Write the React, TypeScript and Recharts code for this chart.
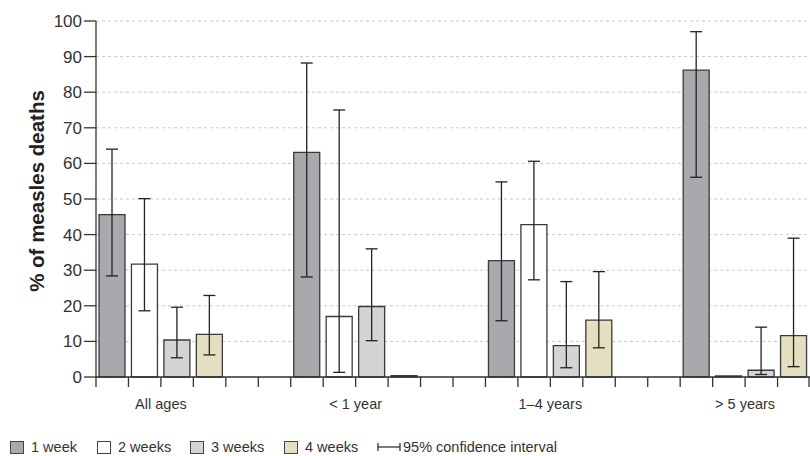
import { BarChart, Bar, XAxis, YAxis, CartesianGrid, ErrorBar, Cell } from 'recharts';

const ageGroups = ['All ages', '< 1 year', '1–4 years', '> 5 years'];
const seriesNames = ['1 week', '2 weeks', '3 weeks', '4 weeks'];
const seriesColors = ['#a8a9ac', '#ffffff', '#d3d4d6', '#e4dfc0'];

// % of measles deaths by interval, per age group, with 95% CI
const week1 = [45.6, 63.1, 32.7, 86.2];
const week1Low = [28.4, 28.1, 15.8, 56.1];
const week1High = [64.0, 88.2, 54.8, 97.0];
const week2 = [31.7, 17.0, 42.8, 0.3];
const week2Low = [18.6, 1.3, 27.3, null];
const week2High = [50.1, 75.0, 60.6, null];
const week3 = [10.4, 19.8, 8.8, 1.9];
const week3Low = [5.4, 10.2, 2.6, 0.7];
const week3High = [19.6, 36.0, 26.8, 14.0];
const week4 = [12.0, 0.4, 16.0, 11.6];
const week4Low = [6.2, null, 8.2, 2.9];
const week4High = [22.9, null, 29.6, 39.0];

const yTicks = [0, 10, 20, 30, 40, 50, 60, 70, 80, 90, 100];

const values = [week1, week2, week3, week4];
const lows = [week1Low, week2Low, week3Low, week4Low];
const highs = [week1High, week2High, week3High, week4High];

// each age group takes 4 bar slots + 2 empty slots (none after the last)
type Row = { slot: number; value: number | null; err: [number, number] | null; color: string };
const rows: Row[] = [];
ageGroups.forEach((_, g) => {
  for (let s = 0; s < 4; s++) {
    const v = values[s][g];
    const lo = lows[s][g];
    const hi = highs[s][g];
    rows.push({
      slot: rows.length,
      value: v,
      err: lo != null && hi != null ? [v - lo, hi - v] : null,
      color: seriesColors[s],
    });
  }
  if (g < ageGroups.length - 1) {
    rows.push({ slot: rows.length, value: null, err: null, color: '#fff' });
    rows.push({ slot: rows.length, value: null, err: null, color: '#fff' });
  }
});

const font = '"Liberation Sans", Arial, sans-serif';
const chartW = 810;
const yAxisW = 96;
const slotW = (chartW - yAxisW) / rows.length;

// legend item left edges, as in the original layout
const legendLefts = [10, 97, 190, 284];

// tick marks sit on slot boundaries; group names on the middle boundary of each group
function SlotTick(props: any) {
  const { x, y, index } = props;
  const left = x - slotW / 2;
  return (
    <g>
      <line x1={left} y1={y} x2={left} y2={y + 10} stroke="#333" strokeWidth={1.3} />
      {index === rows.length - 1 && (
        <line x1={x + slotW / 2 - 1} y1={y} x2={x + slotW / 2 - 1} y2={y + 10} stroke="#333" strokeWidth={1.3} />
      )}
      {index % 6 === 2 && (
        <text x={left} y={y + 22} dy="0.71em" textAnchor="middle" fill="#333" fontSize={14.5}>
          {ageGroups[(index - 2) / 6]}
        </text>
      )}
    </g>
  );
}

function Legend() {
  return (
    <div style={{ position: 'absolute', left: 0, top: 439, width: 810, height: 16, fontSize: 14.5, color: '#333', fontFamily: font }}>
      {seriesNames.map((name, i) => (
        <div key={name} style={{ position: 'absolute', left: legendLefts[i], top: 0, display: 'flex', alignItems: 'center', whiteSpace: 'nowrap' }}>
          <span style={{ width: 14, height: 13, background: seriesColors[i], border: '1px solid #444', boxSizing: 'border-box', marginRight: 7, display: 'inline-block' }} />
          <span>{name}</span>
        </div>
      ))}
      <div style={{ position: 'absolute', left: 377, top: 0, display: 'flex', alignItems: 'center', whiteSpace: 'nowrap' }}>
        <svg width={24} height={10} style={{ marginRight: 2 }}>
          <line x1={1} y1={1} x2={1} y2={9} stroke="#333" strokeWidth={1.3} />
          <line x1={1} y1={5} x2={23} y2={5} stroke="#333" strokeWidth={1.3} />
          <line x1={23} y1={1} x2={23} y2={9} stroke="#333" strokeWidth={1.3} />
        </svg>
        <span>95% confidence interval</span>
      </div>
    </div>
  );
}

export default function App() {
  return (
    <div style={{ position: 'absolute', left: 0, top: 0, width: 810, height: 456, background: '#fff', fontFamily: font }}>
      <BarChart width={chartW} height={456} data={rows} margin={{ top: 21, right: 0, left: 0, bottom: 0 }} barCategoryGap={3}>
        <CartesianGrid vertical={false} stroke="#c8c8c8" strokeDasharray="3 3" />
        <XAxis
          dataKey="slot"
          type="category"
          height={79}
          interval={0}
          stroke="#333"
          strokeWidth={1.3}
          tickLine={false}
          tickSize={0}
          tickMargin={0}
          tick={<SlotTick />}
        />
        <YAxis
          width={yAxisW}
          domain={[0, 100]}
          ticks={yTicks}
          interval={0}
          stroke="#333"
          strokeWidth={1.3}
          tickSize={12}
          tickMargin={2}
          tick={{ fill: '#333', fontSize: 17 }}
          label={{ value: '% of measles deaths', angle: -90, position: 'center', dx: -11, dy: -8, style: { fontWeight: 'bold', fontSize: 20.5, fill: '#222' } }}
        />
        <Bar dataKey="value" stroke="#3a3a3a" strokeWidth={1.3} isAnimationActive={false}>
          {rows.map((r) => (
            <Cell key={r.slot} fill={r.color} />
          ))}
          <ErrorBar dataKey="err" width={6} stroke="#222" strokeWidth={1.3} />
        </Bar>
      </BarChart>
      <Legend />
    </div>
  );
}
